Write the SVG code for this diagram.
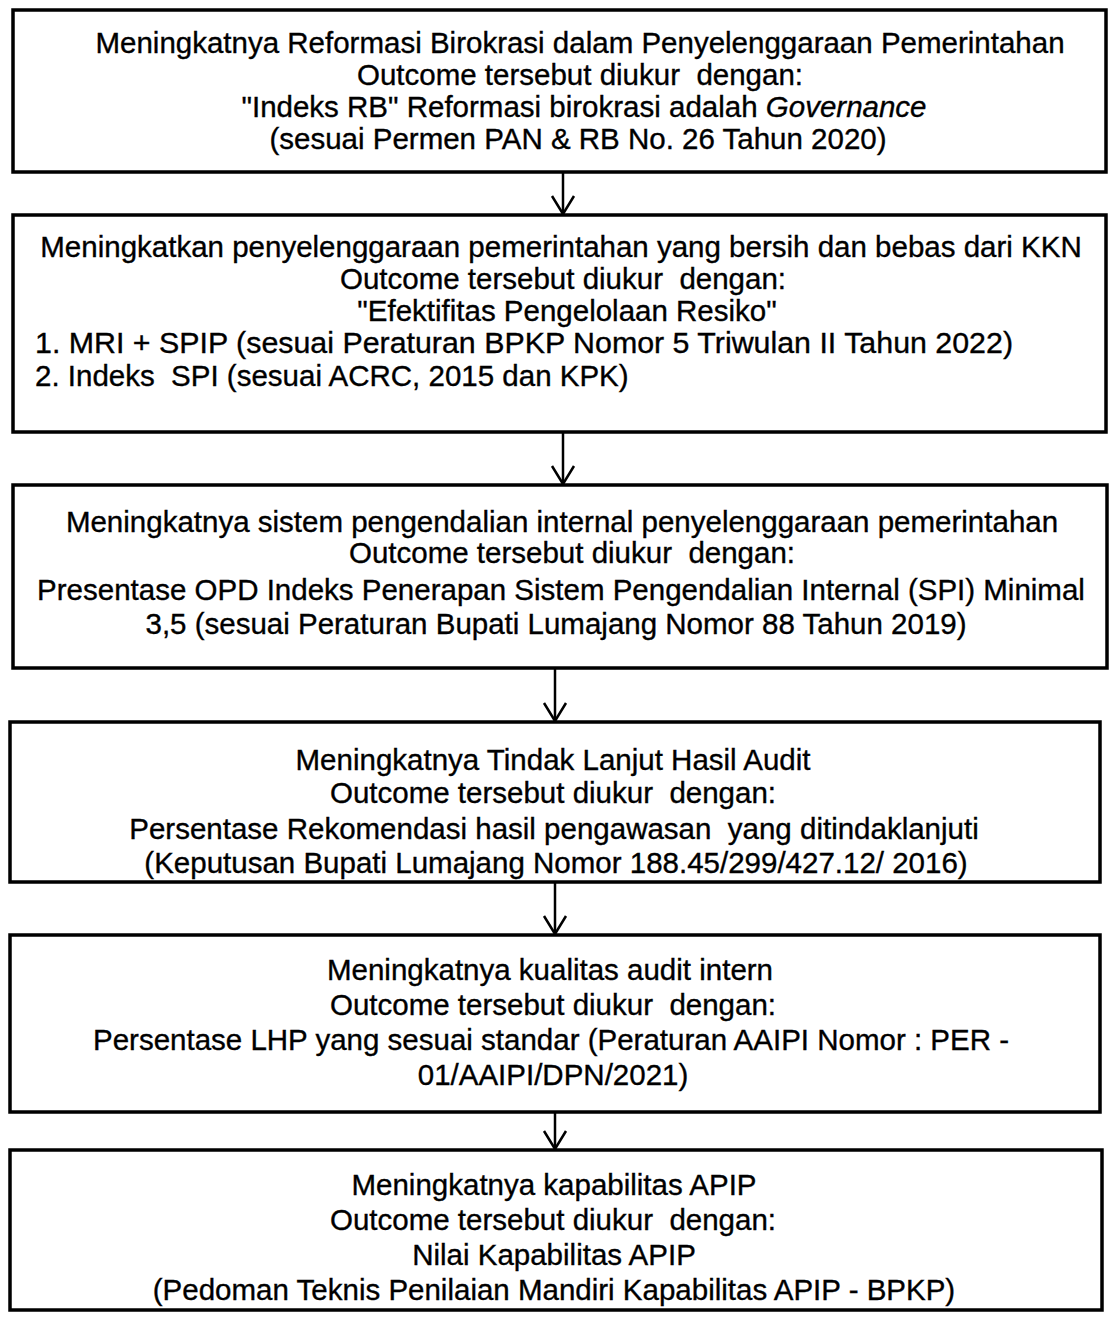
<svg xmlns="http://www.w3.org/2000/svg" width="1112" height="1319" viewBox="0 0 1112 1319">
<defs>
<style>
.box{fill:#fff;stroke:#000;stroke-width:3.5}
.t{font-family:"Liberation Sans",Arial,sans-serif;font-size:29.5px;fill:#000;stroke:#000;stroke-width:0.35;text-anchor:middle}
.l{text-anchor:start}
.c{stroke:#000;stroke-width:2.5;fill:none}
</style>
<marker id="ah" markerWidth="22" markerHeight="26" refX="20" refY="13" orient="auto" markerUnits="userSpaceOnUse" viewBox="0 0 22 26">
<path d="M2,2 L20,13 L2,24" fill="none" stroke="#000" stroke-width="2.5"/>
</marker>
</defs>
<rect width="1112" height="1319" fill="#fff"/>
<g id="connectors">
<line class="c" x1="563" y1="172" x2="563" y2="214" marker-end="url(#ah)"/>
<line class="c" x1="563" y1="432" x2="563" y2="484" marker-end="url(#ah)"/>
<line class="c" x1="555" y1="668" x2="555" y2="721" marker-end="url(#ah)"/>
<line class="c" x1="555" y1="882" x2="555" y2="934" marker-end="url(#ah)"/>
<line class="c" x1="555" y1="1112" x2="555" y2="1149" marker-end="url(#ah)"/>
</g>
<g id="node1">
<rect class="box" x="13" y="10" width="1093" height="162"/>
<text class="t" x="580" y="53">Meningkatnya Reformasi Birokrasi dalam Penyelenggaraan Pemerintahan</text>
<text class="t" x="580" y="85" xml:space="preserve">Outcome tersebut diukur  dengan:</text>
<text class="t" x="584" y="117">"Indeks RB" Reformasi birokrasi adalah <tspan font-style="italic">Governance</tspan></text>
<text class="t" x="578" y="149">(sesuai Permen PAN &amp; RB No. 26 Tahun 2020)</text>
</g>
<g id="node2">
<rect class="box" x="13" y="215" width="1093" height="217"/>
<text class="t" x="561" y="257">Meningkatkan penyelenggaraan pemerintahan yang bersih dan bebas dari KKN</text>
<text class="t" x="563" y="289" xml:space="preserve">Outcome tersebut diukur  dengan:</text>
<text class="t" x="567" y="321">"Efektifitas Pengelolaan Resiko"</text>
<text class="t l" x="35" y="353" textLength="978" lengthAdjust="spacingAndGlyphs">1. MRI + SPIP (sesuai Peraturan BPKP Nomor 5 Triwulan II Tahun 2022)</text>
<text class="t l" x="35" y="386" xml:space="preserve">2. Indeks  SPI (sesuai ACRC, 2015 dan KPK)</text>
</g>
<g id="node3">
<rect class="box" x="13" y="485" width="1094" height="183"/>
<text class="t" x="562" y="532">Meningkatnya sistem pengendalian internal penyelenggaraan pemerintahan</text>
<text class="t" x="572" y="563" xml:space="preserve">Outcome tersebut diukur  dengan:</text>
<text class="t" x="561" y="600">Presentase OPD Indeks Penerapan Sistem Pengendalian Internal (SPI) Minimal</text>
<text class="t" x="556" y="634">3,5 (sesuai Peraturan Bupati Lumajang Nomor 88 Tahun 2019)</text>
</g>
<g id="node4">
<rect class="box" x="10" y="722" width="1090" height="160"/>
<text class="t" x="553" y="770">Meningkatnya Tindak Lanjut Hasil Audit</text>
<text class="t" x="553" y="803" xml:space="preserve">Outcome tersebut diukur  dengan:</text>
<text class="t" x="554" y="839" xml:space="preserve">Persentase Rekomendasi hasil pengawasan  yang ditindaklanjuti</text>
<text class="t" x="556" y="873">(Keputusan Bupati Lumajang Nomor 188.45/299/427.12/ 2016)</text>
</g>
<g id="node5">
<rect class="box" x="10" y="935" width="1090" height="177"/>
<text class="t" x="550" y="980">Meningkatnya kualitas audit intern</text>
<text class="t" x="553" y="1015" xml:space="preserve">Outcome tersebut diukur  dengan:</text>
<text class="t" x="551" y="1050">Persentase LHP yang sesuai standar (Peraturan AAIPI Nomor : PER -</text>
<text class="t" x="553" y="1085">01/AAIPI/DPN/2021)</text>
</g>
<g id="node6">
<rect class="box" x="10" y="1150" width="1092" height="160"/>
<text class="t" x="554" y="1195">Meningkatnya kapabilitas APIP</text>
<text class="t" x="553" y="1230" xml:space="preserve">Outcome tersebut diukur  dengan:</text>
<text class="t" x="554" y="1265">Nilai Kapabilitas APIP</text>
<text class="t" x="554" y="1300">(Pedoman Teknis Penilaian Mandiri Kapabilitas APIP - BPKP)</text>
</g>
</svg>
